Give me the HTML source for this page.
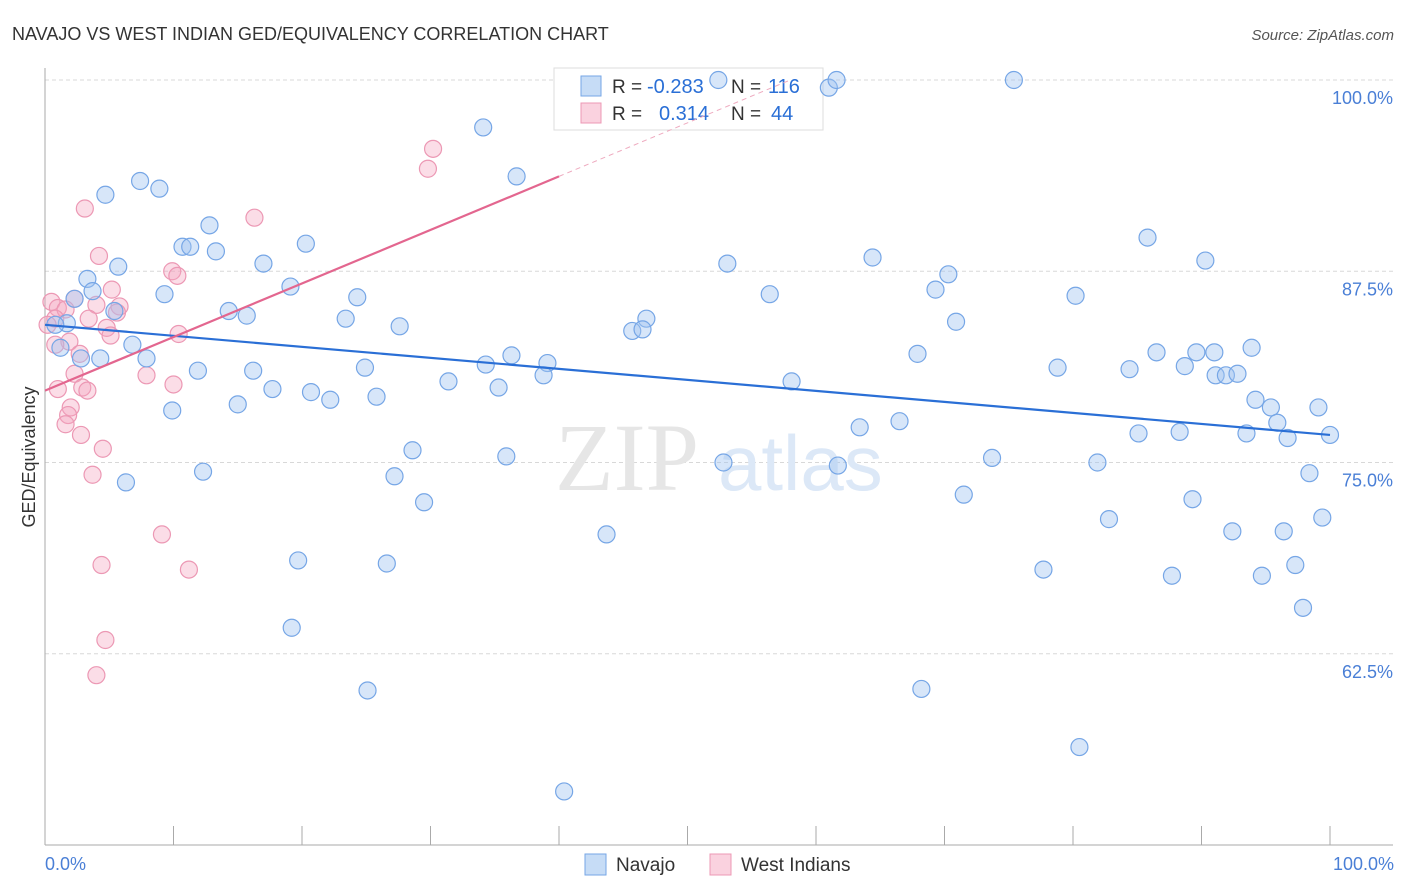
<!DOCTYPE html>
<html><head><meta charset="utf-8"><style>
body{margin:0;background:#fff;font-family:"Liberation Sans",sans-serif;}
#wrap{position:relative;width:1406px;height:892px;overflow:hidden}
</style></head><body>
<div id="wrap">
<svg id="chart" width="1406" height="892"></svg>
</div>
<script>
const navajoX=[52.4,61.0,61.6,75.4,34.1,36.7,7.4,8.9,4.7,12.8,20.3,10.7,11.3,13.3,5.7,17.0,53.1,64.4,85.8,90.3,70.3,3.3,19.1,3.7,9.3,69.3,56.4,80.2,24.3,2.3,5.4,14.3,15.7,23.4,70.9,27.6,1.7,0.8,46.8,45.7,46.5,6.8,1.2,93.9,67.9,86.5,89.6,91.0,36.3,2.8,4.3,7.9,34.3,39.1,24.9,78.8,84.4,88.7,11.9,16.2,38.8,91.1,91.9,92.8,31.4,58.1,17.7,20.7,35.3,25.8,22.2,15.0,94.2,95.4,9.9,99.1,95.9,66.5,63.4,85.1,88.3,93.5,96.7,28.6,52.8,73.7,61.7,35.9,12.3,27.2,81.9,98.4,6.3,71.5,29.5,89.3,82.8,99.4,43.7,92.4,96.4,19.7,26.6,77.7,87.7,94.7,97.3,97.9,19.2,25.1,68.2,80.5,40.4,100];
const navajoY=[100,99.5,100,100,96.9,93.7,93.4,92.9,92.5,90.5,89.3,89.1,89.1,88.8,87.8,88.0,88.0,88.4,89.7,88.2,87.3,87.0,86.5,86.2,86.0,86.3,86.0,85.9,85.8,85.7,84.9,84.9,84.6,84.4,84.2,83.9,84.1,84.0,84.4,83.6,83.7,82.7,82.5,82.5,82.1,82.2,82.2,82.2,82.0,81.8,81.8,81.8,81.4,81.5,81.2,81.2,81.1,81.3,81.0,81.0,80.7,80.7,80.7,80.8,80.3,80.3,79.8,79.6,79.9,79.3,79.1,78.8,79.1,78.6,78.4,78.6,77.6,77.7,77.3,76.9,77.0,76.9,76.6,75.8,75.0,75.3,74.8,75.4,74.4,74.1,75.0,74.3,73.7,72.9,72.4,72.6,71.3,71.4,70.3,70.5,70.5,68.6,68.4,68.0,67.6,67.6,68.3,65.5,64.2,60.1,60.2,56.4,53.5,76.8];
const westX=[30.2,29.8,3.1,16.3,4.2,9.9,10.3,0.5,2.3,5.2,5.8,1.0,4.0,1.6,3.4,5.6,0.8,0.2,4.8,5.1,10.4,1.9,0.8,2.7,7.9,2.3,2.9,1.0,10.0,3.3,2.0,1.8,1.6,2.8,4.5,3.7,9.1,4.4,11.2,4.7,4.0];
const westY=[95.5,94.2,91.6,91.0,88.5,87.5,87.2,85.5,85.7,86.3,85.2,85.1,85.3,85.0,84.4,84.8,84.4,84.0,83.8,83.3,83.4,82.9,82.7,82.1,80.7,80.8,79.9,79.8,80.1,79.7,78.6,78.1,77.5,76.8,75.9,74.2,70.3,68.3,68.0,63.4,61.1];
const yTicks=[100,87.5,75,62.5];
const yTickLabels=["100.0%","87.5%","75.0%","62.5%"];
const navajoTrend=[84.0,76.8];
const westTrend=[79.7,0.35];

const NS="http://www.w3.org/2000/svg";
const svg=document.getElementById('chart');
const X0=45,X1=1330,Y100=80,PXPER=15.3;
const sx=v=>X0+(X1-X0)*v/100;
const sy=v=>Y100+(100-v)*PXPER;
function el(t,a,p){const e=document.createElementNS(NS,t);for(const k in a)e.setAttribute(k,a[k]);(p||svg).appendChild(e);return e;}
function txt(x,y,s,attrs,name){const t=el('text',Object.assign({x:x,y:y},attrs));t.textContent=s;return t;}

yTicks.forEach((t,i)=>{
  const g=el('line',{x1:X0,x2:1393,y1:sy(t),y2:sy(t),stroke:'#d8d8d8','stroke-dasharray':'4,3'});
  
  
  const tx=el('text',{x:1393,y:sy(t)+24,'text-anchor':'end',fill:'#4a7fd6','font-size':'18'});
  tx.textContent=yTickLabels[i];
  
  
});
const ax=el('line',{x1:X0,x2:X0,y1:68,y2:845,stroke:'#aaa'});


const bx=el('line',{x1:X0,x2:1393,y1:845,y2:845,stroke:'#aaa'});


for(let i=0;i<=10;i++){
  const t=el('line',{x1:sx(i*10),x2:sx(i*10),y1:826,y2:845,stroke:'#aaa'});
  
  
}
const wm=el('text',{x:555,y:490,fill:'#e6e6e6','font-size':'96','font-family':'Liberation Serif, serif'});
wm.textContent='ZIP';


const wm2=el('text',{x:718,y:490,fill:'#dce8f7','font-size':'78'});
wm2.textContent='atlas';



// top legend (behind points)
const lb=el('rect',{x:554,y:68,width:269,height:62,fill:'#fff',stroke:'#ddd'});


const s1=el('rect',{x:581,y:76,width:20,height:20,fill:'rgba(160,196,240,0.6)',stroke:'#76a6e6'});


const s2=el('rect',{x:581,y:103,width:20,height:20,fill:'rgba(245,165,192,0.5)',stroke:'#ec98b4'});


txt(612,93,'R = ',{fill:'#333','font-size':'19'},'legend-r-label');
txt(647,93,'-0.283',{fill:'#2a6fd6','font-size':'20'},'legend-navajo-r');
txt(731,93,'N = ',{fill:'#333','font-size':'19'},'legend-n-label');
txt(768,93,'116',{fill:'#2a6fd6','font-size':'20'},'legend-navajo-n');
txt(612,120,'R = ',{fill:'#333','font-size':'19'},'legend-r-label');
txt(659,120,'0.314',{fill:'#2a6fd6','font-size':'20'},'legend-west-r');
txt(731,120,'N = ',{fill:'#333','font-size':'19'},'legend-n-label');
txt(771,120,'44',{fill:'#2a6fd6','font-size':'20'},'legend-west-n');

westX.forEach((x,i)=>{
  const c=el('circle',{cx:sx(x),cy:sy(westY[i]),r:8.5,fill:'rgba(245,165,192,0.38)',stroke:'#ec98b4','stroke-width':1.2});
  
  
});
navajoX.forEach((x,i)=>{
  const c=el('circle',{cx:sx(x),cy:sy(navajoY[i]),r:8.5,fill:'rgba(160,196,240,0.42)',stroke:'#76a6e6','stroke-width':1.2});
  
  
});
const nl=el('line',{x1:sx(0),y1:sy(navajoTrend[0]),x2:sx(100),y2:sy(navajoTrend[1]),stroke:'#2a6fd6','stroke-width':2.2});


const wl=el('line',{x1:sx(0),y1:sy(westTrend[0]),x2:sx(40),y2:sy(westTrend[0]+40*westTrend[1]),stroke:'#e3668f','stroke-width':2.2});


const wd=el('line',{x1:sx(40),y1:sy(westTrend[0]+40*westTrend[1]),x2:sx(58),y2:sy(westTrend[0]+58*westTrend[1]),stroke:'#eeaabf','stroke-width':1,'stroke-dasharray':'5,4'});



txt(12,40,'NAVAJO VS WEST INDIAN GED/EQUIVALENCY CORRELATION CHART',{fill:'#333','font-size':'18'},'chart-title');
txt(1394,40,'Source: ZipAtlas.com',{fill:'#555','font-size':'15','font-style':'italic','text-anchor':'end'},'source-label');
txt(45,870,'0.0%',{fill:'#4a7fd6','font-size':'18'},'x-min-label');
txt(1394,870,'100.0%',{fill:'#4a7fd6','font-size':'18','text-anchor':'end'},'x-max-label');
txt(0,0,'GED/Equivalency',{fill:'#333','font-size':'18','text-anchor':'middle',transform:'translate(35,457) rotate(-90)'},'y-axis-title');

const b1=el('rect',{x:585,y:854,width:21,height:21,fill:'rgba(160,196,240,0.6)',stroke:'#76a6e6'});


txt(616,871,'Navajo',{fill:'#333','font-size':'19'},'bottom-legend-navajo');
const b2=el('rect',{x:710,y:854,width:21,height:21,fill:'rgba(245,165,192,0.5)',stroke:'#ec98b4'});


txt(741,871,'West Indians',{fill:'#333','font-size':'19'},'bottom-legend-west');
</script>
</body></html>
